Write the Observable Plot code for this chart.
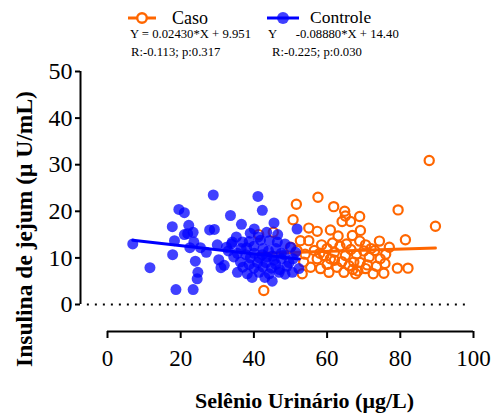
<!DOCTYPE html>
<html><head><meta charset="utf-8">
<script src="https://cdn.jsdelivr.net/npm/d3@7"></script>
<script src="https://cdn.jsdelivr.net/npm/@observablehq/plot@0.6"></script>
<style>
body{margin:0;background:#fff;font-family:'Liberation Serif',serif;}
#wrap{width:504px;height:413px;position:relative;overflow:hidden;background:#fff}
#chart{position:absolute;left:0;top:0}
#legend{position:absolute;left:0;top:0;height:62px;width:504px;pointer-events:none;z-index:2}
.lg{position:absolute;white-space:pre;color:#000;line-height:1;font-family:'Liberation Serif',serif}
#chart svg{display:block}
</style></head><body>
<div id="wrap"><div id="chart"></div><div id="legend"></div></div>
<script>
// ---- data ----
const seriesNames = ["Caso", "Controle"];
const seriesColors = ["#ff6600", "#0000ff"];
const equations = ["Y = 0.02430*X + 9.951", "Y      -0.08880*X + 14.40"];
const statsText = ["R:-0.113; p:0.317", "R:-0.225; p:0.030"];
const slopes = [0.02430, -0.08880];
const intercepts = [9.951, 14.40];
const fitXRange = [[41.3, 89.6], [6.9, 52.4]];
const xTicks = [0, 20, 40, 60, 80, 100];
const yTicks = [0, 10, 20, 30, 40, 50];
const xLabel = "Selênio Urinário (μg/L)";
const yLabel = "Insulina de jejum (μ U/mL)";

const caso = [
 [41.3,15.0],[42.7,3.0],[45.3,15.5],[50.0,12.3],[50.7,18.2],[51.6,21.5],[51.8,11.6],[52.7,13.7],
 [53.2,6.6],[53.6,9.1],[54.0,10.8],[55.0,16.4],[55.0,13.7],[55.5,8.0],[56.5,11.6],[57.3,15.7],
 [57.3,9.8],[57.5,23.0],[58.0,11.0],[58.2,7.7],[58.5,12.8],[59.1,10.5],[60.0,12.0],[60.0,8.6],
 [60.5,6.9],[60.9,16.0],[60.9,9.8],[61.5,13.2],[61.8,21.0],[62.0,11.2],[62.0,9.5],[62.7,8.0],
 [63.0,14.7],[63.5,12.5],[64.0,9.2],[64.1,17.8],[64.6,6.9],[64.8,20.0],[65.0,19.0],[65.0,10.5],
 [65.3,13.0],[66.0,8.3],[66.4,17.8],[66.5,11.8],[66.9,14.8],[67.0,7.5],[67.3,9.1],[67.8,6.6],
 [68.0,10.8],[68.4,7.2],[68.9,18.9],[68.9,13.6],[69.0,9.0],[69.1,15.9],[70.0,11.5],[70.5,12.8],
 [70.5,7.7],[71.0,8.5],[71.5,10.2],[72.0,12.0],[72.6,6.6],[73.0,11.6],[73.5,8.2],[74.3,13.6],
 [74.5,9.8],[75.5,6.7],[75.8,8.8],[76.0,10.8],[77.0,12.3],[79.2,7.8],[79.4,20.3],[81.4,13.9],
 [82.1,7.8],[87.9,30.9],[89.6,16.8]
];
const controle = [
 [6.9,13.0],[11.6,7.9],[17.7,16.7],[17.8,10.7],[18.3,13.7],[18.7,3.2],[19.5,20.4],[21.0,19.7],
 [21.0,15.0],[21.9,15.2],[22.2,17.0],[22.5,12.2],[23.4,15.5],[23.4,3.2],[23.6,13.4],[24.0,9.3],
 [24.5,5.5],[24.7,6.9],[25.4,12.2],[27.0,11.2],[27.9,16.0],[28.9,23.5],[29.2,16.1],[30.0,12.8],
 [30.4,9.6],[31.0,7.9],[31.9,8.4],[32.5,12.3],[33.0,11.5],[33.6,19.1],[33.9,13.0],[34.1,13.4],
 [34.5,10.2],[35.2,14.5],[35.5,11.0],[35.5,6.9],[36.3,9.1],[36.5,12.0],[36.6,17.2],[36.9,13.4],
 [37.0,8.0],[37.8,10.7],[38.0,12.2],[38.2,6.6],[38.7,13.5],[38.7,8.6],[39.0,15.3],[39.0,10.0],
 [39.5,5.8],[40.0,12.5],[40.0,7.8],[40.1,16.2],[40.1,11.0],[41.0,9.0],[41.1,23.2],[41.2,14.5],
 [41.8,13.8],[41.4,6.9],[41.5,10.0],[42.3,20.2],[42.3,10.7],[42.5,12.0],[42.5,8.0],[43.0,5.8],
 [43.3,9.0],[43.5,15.5],[43.5,10.2],[44.0,11.5],[44.2,13.7],[44.2,6.6],[44.8,7.8],[45.0,5.0],
 [45.1,10.4],[45.5,17.5],[45.5,9.5],[46.0,12.0],[46.0,8.6],[46.4,13.4],[46.5,15.0],[46.9,6.9],
 [47.0,7.5],[47.5,11.0],[47.5,9.8],[48.3,10.7],[48.5,13.0],[48.5,6.5],[49.0,8.2],[49.6,9.0],
 [50.1,12.3],[50.5,6.9],[50.7,9.8],[51.4,11.2],[51.8,16.2],[52.3,7.7]
];

// ---- fit lines ----
const fits = [0, 1].map(i => fitXRange[i].map(x => ({x, y: slopes[i] * x + intercepts[i]})));

const ff = "'Liberation Serif', serif";
const chart = Plot.plot({
  width: 504, height: 413,
  marginLeft: 107, marginRight: 31, marginTop: 71, marginBottom: 109,
  style: {fontFamily: ff, background: "white", overflow: "visible", color: "black"},
  x: {domain: [0, 100]},
  y: {domain: [0, 50]},
  marks: [
    Plot.ruleY([0], {x1: -5.5, x2: 98.4, stroke: "black", strokeWidth: 2, strokeDasharray: "2,6"}),
    Plot.ruleX([0], {dx: -27, stroke: "black", strokeWidth: 2}),
    Plot.ruleY([0], {dy: 27, stroke: "black", strokeWidth: 2}),
    Plot.axisY({ticks: yTicks, tickSize: 5, dx: -27, strokeWidth: 2, fontSize: 24, fontFamily: ff, tickPadding: 3, label: null, tickFormat: d => String(d)}),
    Plot.axisX({ticks: xTicks, tickSize: 7, dy: 27, strokeWidth: 2, fontSize: 23, fontFamily: ff, tickPadding: 11, label: null, tickFormat: d => String(d)}),
    Plot.dot(caso, {x: d => d[0], y: d => d[1], r: 4.6, stroke: seriesColors[0], strokeWidth: 2.2, fill: "none"}),
    Plot.line(fits[0], {x: "x", y: "y", stroke: seriesColors[0], strokeWidth: 3}),
    Plot.dot(controle, {x: d => d[0], y: d => d[1], r: 5.5, fill: seriesColors[1], fillOpacity: 0.75, stroke: "none"}),
    Plot.line(fits[1], {x: "x", y: "y", stroke: seriesColors[1], strokeWidth: 3}),
    Plot.text([xLabel], {frameAnchor: "bottom", textAnchor: "middle", lineAnchor: "middle", dx: 14, dy: 96, fontSize: 22, fontWeight: "bold", fontFamily: ff, fill: "black"}),
    Plot.text([yLabel], {frameAnchor: "left", textAnchor: "middle", lineAnchor: "middle", rotate: -90, dx: -83, dy: 41, fontSize: 23.5, fontWeight: "bold", fontFamily: ff, fill: "black"})
  ]
});
document.getElementById("chart").appendChild(chart);

// ---- legend (HTML overlay on the top margin) ----
const legend = document.getElementById("legend");
const ns = "http://www.w3.org/2000/svg";
const lsvg = document.createElementNS(ns, "svg");
lsvg.setAttribute("width", 504); lsvg.setAttribute("height", 62);
lsvg.style.position = "absolute"; lsvg.style.left = "0"; lsvg.style.top = "0";
legend.appendChild(lsvg);
const swatchX = [[128, 156, 142], [267, 299, 283]];
const nameX = [172, 310];
const eqX = [130, 268];
const stX = [131, 272];
seriesNames.forEach((name, i) => {
  const ln = document.createElementNS(ns, "line");
  ln.setAttribute("x1", swatchX[i][0]); ln.setAttribute("x2", swatchX[i][1]);
  ln.setAttribute("y1", 18); ln.setAttribute("y2", 18);
  ln.setAttribute("stroke", seriesColors[i]); ln.setAttribute("stroke-width", 3);
  lsvg.appendChild(ln);
  const c = document.createElementNS(ns, "circle");
  c.setAttribute("cx", swatchX[i][2]); c.setAttribute("cy", 18);
  if (i === 0) { c.setAttribute("r", 4.8); c.setAttribute("fill", "#fff"); c.setAttribute("stroke", seriesColors[i]); c.setAttribute("stroke-width", 2.4); }
  else { c.setAttribute("r", 6); c.setAttribute("fill", seriesColors[i]); c.setAttribute("fill-opacity", 0.75); }
  lsvg.appendChild(c);
  const t = document.createElement("div"); t.className = "lg";
  t.textContent = name; t.style.left = nameX[i] + "px"; t.style.top = "9px"; t.style.fontSize = (i === 0 ? 18 : 17.5) + "px";
  legend.appendChild(t);
  const e = document.createElement("div"); e.className = "lg";
  e.textContent = equations[i]; e.style.left = eqX[i] + "px"; e.style.top = "28px"; e.style.fontSize = "12.7px";
  legend.appendChild(e);
  const s = document.createElement("div"); s.className = "lg";
  s.textContent = statsText[i]; s.style.left = stX[i] + "px"; s.style.top = "46px"; s.style.fontSize = "12.7px";
  legend.appendChild(s);
});
</script>
</body></html>
